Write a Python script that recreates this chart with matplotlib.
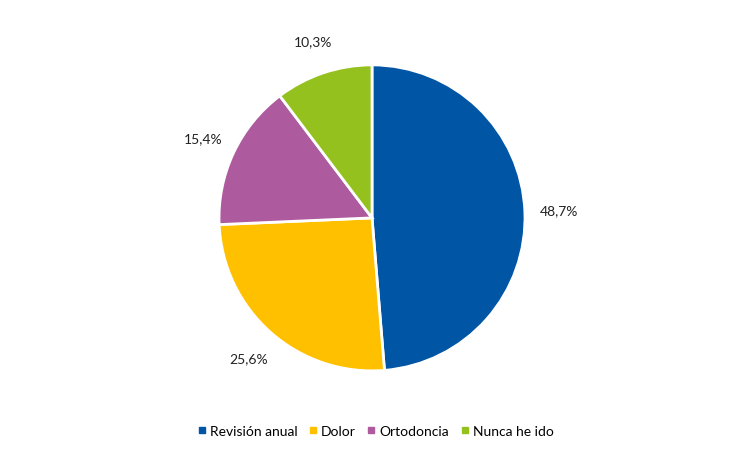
import matplotlib
matplotlib.use("Agg")
import matplotlib.pyplot as plt
from matplotlib.lines import Line2D

categories = ["Revisión anual", "Dolor", "Ortodoncia", "Nunca he ido"]
values = [48.7, 25.6, 15.4, 10.3]
colors = ["#0055A5", "#FFC000", "#AE5A9E", "#95C11F"]

plt.rcParams['font.family'] = ['Lato', 'DejaVu Sans']
fig = plt.figure(figsize=(7.47, 4.56), dpi=100)
ax = fig.add_axes([0.498 - 0.205, 0.52 - 0.3355, 0.41, 0.671])
ax.pie(values, colors=colors, startangle=90, counterclock=False,
       autopct=lambda p: f"{p:.1f}".replace(".", ",") + "%", pctdistance=1.22,
       wedgeprops=dict(edgecolor="white", linewidth=2),
       textprops=dict(fontsize=10, color="#222222"))
ax.set_xlim(-1, 1)
ax.set_ylim(-1, 1)
ax.set_aspect('equal')
handles = [Line2D([], [], marker='s', linestyle='', color=c, markersize=5) for c in colors]
fig.legend(handles, categories, loc='center', bbox_to_anchor=(0.5, 1 - 432/456),
           ncol=4, frameon=False, fontsize=10, handletextpad=0.0, columnspacing=0.5,
           handlelength=1.2)
fig.savefig("out.png", dpi=100)
